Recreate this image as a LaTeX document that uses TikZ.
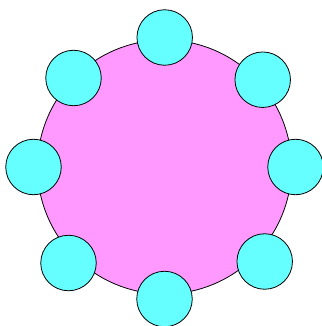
\documentclass[tikz,border=0pt]{standalone}
\usepackage{xcolor}
\usepackage{tikz}
\definecolor{hubpink}{HTML}{FF99FF}
\definecolor{satcyan}{HTML}{66FFFF}

\begin{document}
\begin{tikzpicture}[
    x=1pt, y=-1pt,
    hub/.style={circle, draw, line width=0.8pt, fill=hubpink,
                minimum size=254pt, inner sep=0pt},
    sat/.style={circle, draw, line width=0.8pt, fill=satcyan,
                minimum size=55.5pt, inner sep=0pt}
]
\useasboundingbox (0,0) rectangle (321,326);
\node[hub] (core) at (164.5,167) {};
\node[sat] (sN)  at (164.7,37.5)  {};
\node[sat] (sNE) at (262.7,79.7)  {};
\node[sat] (sE)  at (295.5,167)   {};
\node[sat] (sSE) at (264.7,261.5) {};
\node[sat] (sS)  at (164.5,299)   {};
\node[sat] (sSW) at (68.5,263)    {};
\node[sat] (sW)  at (33.5,167)    {};
\node[sat] (sNW) at (73.5,78)     {};
\end{tikzpicture}
\end{document}
